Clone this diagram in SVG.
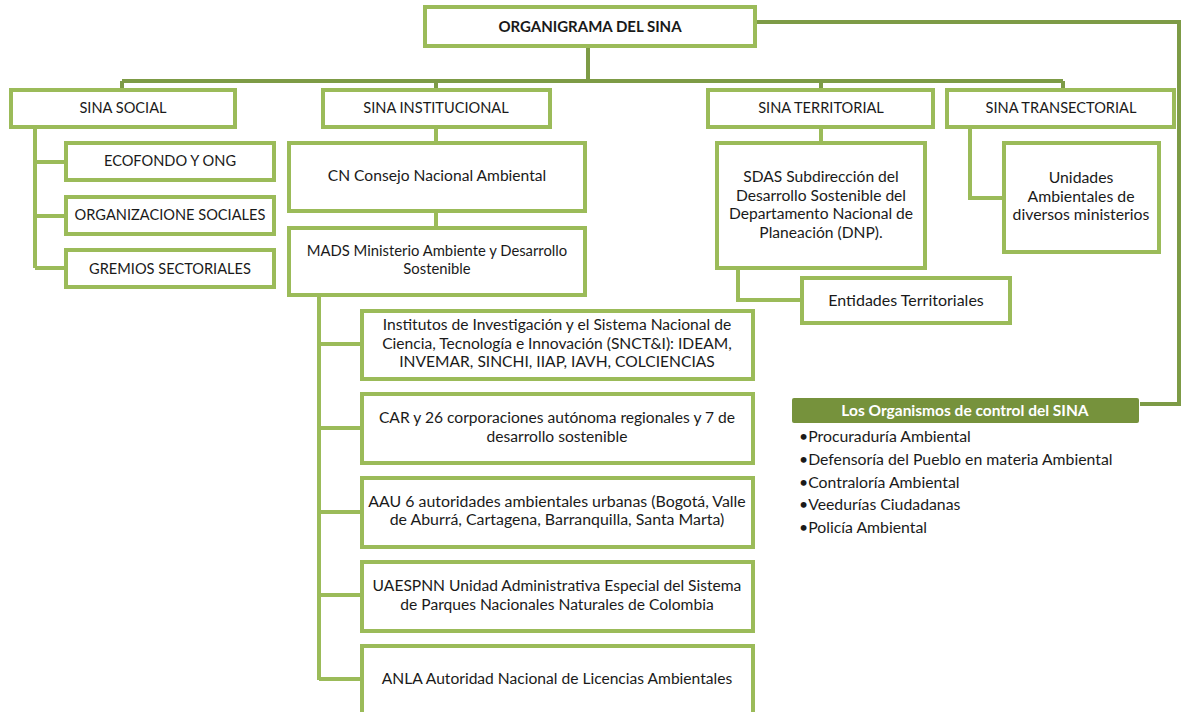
<svg xmlns="http://www.w3.org/2000/svg" width="1183" height="712" viewBox="0 0 1183 712">
<style>
.box{fill:#ffffff;stroke:#9bbb59;stroke-width:4}
.c{fill:none;stroke:#9bbb59;stroke-width:4}
.cd{fill:none;stroke:#7d9b46;stroke-width:4}
text{font-family:Lato,"Open Sans","Liberation Sans",sans-serif;font-size:15.6px;fill:#1a1a1a;text-anchor:middle}
.u{font-size:14.6px}
.b{font-weight:bold;font-size:15px}
.w{fill:#ffffff;font-weight:bold;font-size:15.5px}
.l{text-anchor:start;font-size:15.8px}
</style>
<rect width="1183" height="712" fill="#ffffff"/>
<g id="connectors">
<path class="cd" d="M588 46V81M122 81H1063M122 81V90M436 81V90M821 81V90M1063 81V90"/>
<path class="cd" d="M757 22H1179V404H1140"/>
<path class="c" d="M35 127V268M35 162H66M35 216H66M35 268H66"/>
<path class="c" d="M436 127V143M436 211V228"/>
<path class="c" d="M319 295V680M319 344H362M319 428H362M319 512H362M319 595H362M319 679H362"/>
<path class="c" d="M821 127V143M738 268V300H802"/>
<path class="c" d="M970 127V198H1004"/>
</g>
<g id="n-top"><rect class="box" x="425" y="7" width="330" height="39"/><text class="b" x="590" y="32">ORGANIGRAMA DEL SINA</text></g>
<g id="n-social"><rect class="box" x="11" y="90" width="224" height="37"/><text class="u" x="123" y="113">SINA SOCIAL</text></g>
<g id="n-institucional"><rect class="box" x="323" y="90" width="227" height="37"/><text class="u" x="436" y="113">SINA INSTITUCIONAL</text></g>
<g id="n-territorial"><rect class="box" x="708" y="90" width="225" height="37"/><text class="u" x="821" y="113">SINA TERRITORIAL</text></g>
<g id="n-transectorial"><rect class="box" x="947" y="90" width="227" height="37"/><text class="u" x="1061" y="113">SINA TRANSECTORIAL</text></g>
<g id="n-ecofondo"><rect class="box" x="66" y="143" width="208" height="37"/><text class="u" x="170" y="166">ECOFONDO Y ONG</text></g>
<g id="n-organizaciones"><rect class="box" x="66" y="197" width="208" height="37"/><text class="u" x="170" y="220">ORGANIZACIONE SOCIALES</text></g>
<g id="n-gremios"><rect class="box" x="66" y="250" width="208" height="37"/><text class="u" x="170" y="274">GREMIOS SECTORIALES</text></g>
<g id="n-cn"><rect class="box" x="289" y="143" width="296" height="68"/><text x="437" y="181">CN Consejo Nacional Ambiental</text></g>
<g id="n-mads"><rect class="box" x="289" y="228" width="296" height="67"/><text x="437" y="256" style="font-size:14.8px">MADS Ministerio Ambiente y Desarrollo</text><text x="437" y="274" style="font-size:14.8px">Sostenible</text></g>
<g id="n-institutos"><rect class="box" x="362" y="311" width="391" height="68"/><text x="557" y="330">Institutos de Investigación y el Sistema Nacional de</text><text x="557" y="349">Ciencia, Tecnología e Innovación  (SNCT&amp;I): IDEAM,</text><text x="557" y="367">INVEMAR, SINCHI, IIAP, IAVH, COLCIENCIAS</text></g>
<g id="n-car"><rect class="box" x="362" y="394" width="391" height="69"/><text x="557" y="423">CAR y 26 corporaciones  autónoma regionales y 7 de</text><text x="557" y="442">desarrollo sostenible</text></g>
<g id="n-aau"><rect class="box" x="362" y="478" width="391" height="69"/><text x="557" y="507" style="font-size:15.9px">AAU 6 autoridades ambientales urbanas (Bogotá, Valle</text><text x="557" y="525" style="font-size:15.9px">de Aburrá, Cartagena, Barranquilla, Santa Marta)</text></g>
<g id="n-uaespnn"><rect class="box" x="362" y="562" width="391" height="69"/><text x="557" y="591">UAESPNN Unidad Administrativa Especial del Sistema</text><text x="557" y="610">de Parques  Nacionales Naturales de Colombia</text></g>
<g id="n-anla"><rect class="box" x="362" y="646" width="391" height="80"/><text x="557" y="684">ANLA Autoridad Nacional de Licencias Ambientales</text></g>
<g id="n-sdas"><rect class="box" x="717" y="143" width="208" height="125"/><text x="821" y="182">SDAS Subdirección del</text><text x="821" y="201">Desarrollo Sostenible del</text><text x="821" y="219">Departamento Nacional de</text><text x="821" y="238">Planeación (DNP).</text></g>
<g id="n-entidades"><rect class="box" x="802" y="278" width="208" height="45"/><text x="906" y="306" style="font-size:16px">Entidades Territoriales</text></g>
<g id="n-unidades"><rect class="box" x="1004" y="143" width="155" height="109"/><text x="1081" y="183" style="font-size:15.8px">Unidades</text><text x="1081" y="202" style="font-size:15.8px">Ambientales de</text><text x="1081" y="220" style="font-size:15.8px">diversos ministerios</text></g>
<g id="n-control"><rect x="792" y="398" width="347" height="25" rx="2" fill="#76923c"/><text class="w" x="965" y="416">Los Organismos de control  del SINA</text>
<text class="l" x="799" y="442">•Procuraduría Ambiental</text>
<text class="l" x="799" y="465">•Defensoría del Pueblo en materia Ambiental</text>
<text class="l" x="799" y="488">•Contraloría Ambiental</text>
<text class="l" x="799" y="510">•Veedurías Ciudadanas</text>
<text class="l" x="799" y="533">•Policía Ambiental</text></g>
</svg>
